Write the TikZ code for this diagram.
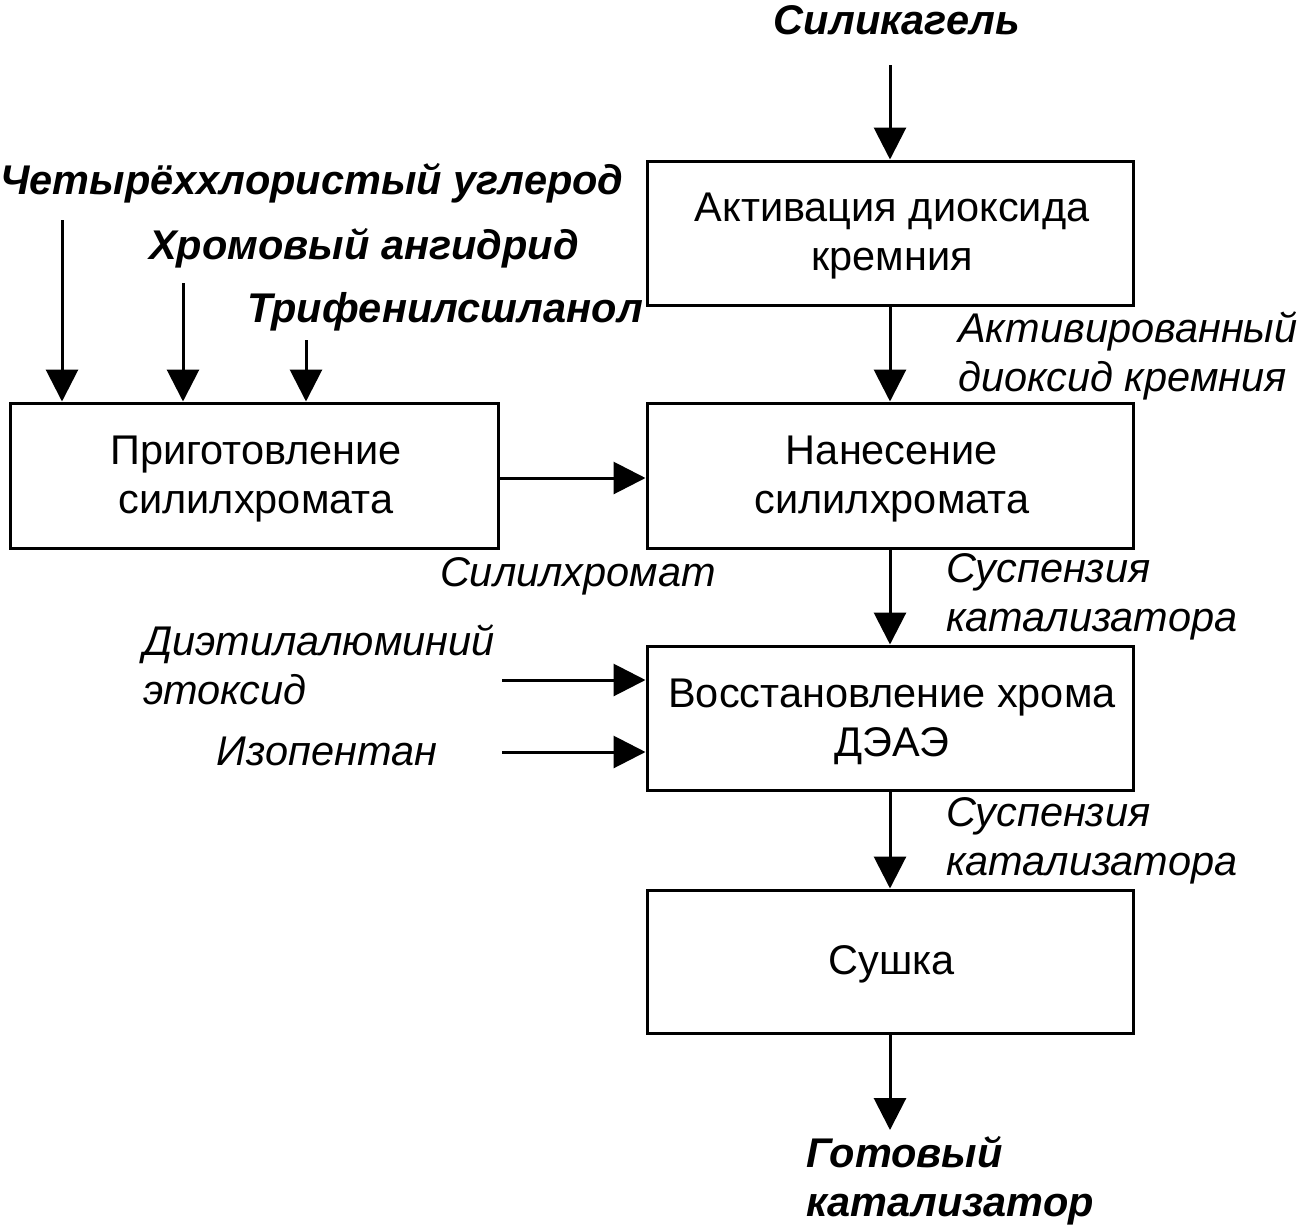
\documentclass[tikz,border=0pt]{standalone}
\usepackage{fontspec}
\setmainfont{Liberation Sans}
\usetikzlibrary{arrows.meta}
\begin{document}
\begin{tikzpicture}[x=1pt,y=-1pt,
  proc/.style={draw,line width=3pt,minimum width=486pt,minimum height=144pt,inner sep=0pt,align=center,
    font=\fontsize{41.5}{49}\selectfont},
  ptext/.style={inner sep=0pt,align=center,font=\fontsize{41.5}{49}\selectfont},
  lab/.style={inner sep=0pt,align=left,font=\fontsize{41.5}{49}\selectfont\itshape},
  blab/.style={inner sep=0pt,align=left,font=\fontsize{41.5}{49}\selectfont\bfseries\itshape},
  flow/.style={line width=3pt,-{Triangle[length=32pt,width=32pt]}}]
\useasboundingbox (0,0) rectangle (1299,1229);
% boxes
\node[proc] (b1) at (890,233) {};
\node[proc,minimum width=488pt,minimum height=145pt] (b2) at (254,475.5) {};
\node[proc,minimum height=145pt] (b3) at (890,475.5) {};
\node[proc] (b4) at (890,718) {};
\node[proc,minimum height=143pt] (b5) at (890,961.5) {};
% box texts
\node[ptext] (t1) at (892,236) {Активация диоксида\\кремния};
\node[ptext] (t2) at (256,479) {Приготовление\\силилхромата};
\node[ptext] (t3) at (892,479) {Нанесение\\силилхромата};
\node[ptext] (t4) at (892,722) {Восстановление хрома\\ДЭАЭ};
\node[ptext] (t5) at (892,964) {Сушка};
% labels
\node[blab] (silica) at (897,20) {Силикагель};
\node[blab] (ccl4) at (312,183) {Четырёххлористый углерод};
\node[blab] (cro3) at (364,248) {Хромовый ангидрид};
\node[blab] (tps) at (445,312) {Трифенилсшланол};
\node[lab,anchor=west] (act) at (958,356) {Активированный\\диоксид кремния};
\node[lab] (sch) at (578,576) {Силилхромат};
\node[lab,anchor=west] (susp1) at (946,597) {Суспензия\\катализатора};
\node[lab,anchor=west] (deae) at (143,665) {Диэтилалюминий\\этоксид};
\node[lab] (ipn) at (327,751) {Изопентан};
\node[lab,anchor=west] (susp2) at (946,841) {Суспензия\\катализатора};
\node[blab,anchor=west] (ready) at (806,1181) {Готовый\\катализатор};
% free ends
\coordinate (s0) at (890,65);
\coordinate (c1) at (62,220);
\coordinate (c2) at (183,283);
\coordinate (c3) at (306,340);
\coordinate (d1) at (502,680);
\coordinate (d2) at (502,752);
\coordinate (e0) at (890,1130);
% connectors
\draw[flow] (s0) -- (b1.north);
\draw[flow] (b1.south) -- (b3.north);
\draw[flow] (b3.south) -- (b4.north);
\draw[flow] (b4.south) -- (b5.north);
\draw[flow] (b5.south) -- (e0);
\draw[flow] (c1) -- (c1 |- b2.north);
\draw[flow] (c2) -- (c2 |- b2.north);
\draw[flow] (c3) -- (c3 |- b2.north);
\draw[flow] (b2.east |- 0,478) -- (b3.west |- 0,478);
\draw[flow] (d1) -- (d1 -| b4.west);
\draw[flow] (d2) -- (d2 -| b4.west);
\end{tikzpicture}
\end{document}
